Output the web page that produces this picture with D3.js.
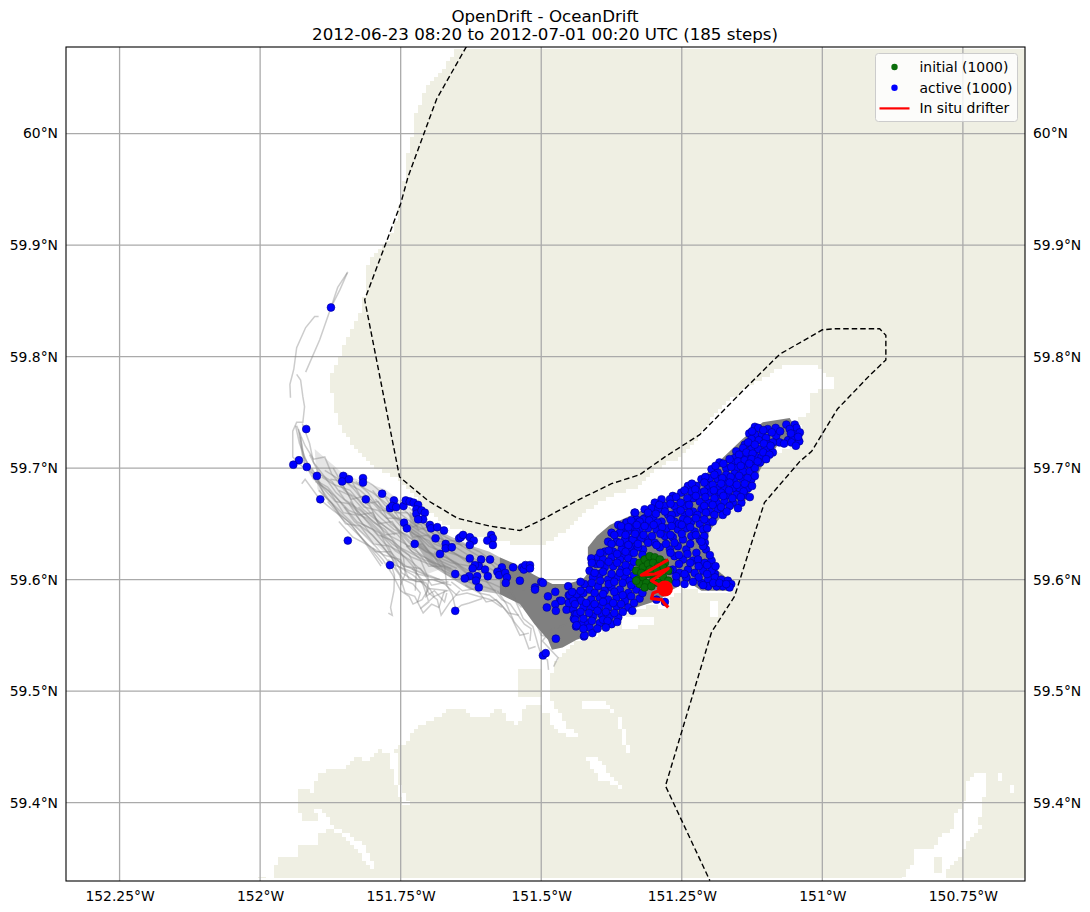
<!DOCTYPE html>
<html>
<head>
<meta charset="utf-8">
<script src="https://cdn.jsdelivr.net/npm/d3@7"></script>
<style>
  html, body { margin: 0; padding: 0; background: #fff; }
  text { font-family: "DejaVu Sans", sans-serif; fill: #000; }
</style>
</head>
<body>
<div id="vis"></div>
<script>
// Titles and axis ticks
const titleLines = ['OpenDrift - OceanDrift', '2012-06-23 08:20 to 2012-07-01 00:20 UTC (185 steps)'];
const lonTicks = [-152.25, -152, -151.75, -151.5, -151.25, -151, -150.75];
const lonTickLabels = ['152.25°W', '152°W', '151.75°W', '151.5°W', '151.25°W', '151°W', '150.75°W'];
const latTicks = [60, 59.9, 59.8, 59.7, 59.6, 59.5, 59.4];
const latTickLabels = ['60°N', '59.9°N', '59.8°N', '59.7°N', '59.6°N', '59.5°N', '59.4°N'];
const legendLabels = ['initial (1000)', 'active (1000)', 'In situ drifter'];

// Model domain outline (dashed)
const domainOutline = [[-151.633,60.078],[-151.686,60.031],[-151.737,59.961],[-151.750,59.937],[-151.814,59.851],[-151.752,59.692],[-151.702,59.671],[-151.649,59.655],[-151.592,59.648],[-151.538,59.644],[-151.494,59.655],[-151.432,59.672],[-151.375,59.686],[-151.325,59.694],[-151.280,59.710],[-151.218,59.730],[-151.138,59.771],[-151.076,59.802],[-151.000,59.824],[-150.978,59.825],[-150.898,59.825],[-150.887,59.819],[-150.887,59.797],[-150.916,59.783],[-150.973,59.753],[-151.019,59.715],[-151.040,59.706],[-151.103,59.669],[-151.156,59.585],[-151.197,59.553],[-151.279,59.415],[-151.200,59.330]];

// Water areas, everything else in the plot is land
const mainWater = [[-152.36,60.09],[-151.647,60.09],[-151.652,60.075],[-151.665,60.064],[-151.686,60.052],[-151.706,60.039],[-151.715,60.025],[-151.724,60.016],[-151.729,60.0],[-151.737,59.984],[-151.742,59.963],[-151.751,59.936],[-151.756,59.923],[-151.772,59.904],[-151.791,59.895],[-151.807,59.883],[-151.814,59.868],[-151.816,59.847],[-151.830,59.830],[-151.852,59.808],[-151.862,59.796],[-151.875,59.780],[-151.871,59.760],[-151.855,59.736],[-151.829,59.715],[-151.802,59.703],[-151.754,59.690],[-151.706,59.663],[-151.674,59.650],[-151.630,59.641],[-151.546,59.632],[-151.482,59.633],[-151.443,59.651],[-151.399,59.669],[-151.363,59.678],[-151.327,59.682],[-151.304,59.696],[-151.279,59.704],[-151.251,59.709],[-151.220,59.729],[-151.197,59.744],[-151.161,59.762],[-151.126,59.776],[-151.096,59.783],[-151.073,59.791],[-151.048,59.794],[-151.021,59.794],[-151.010,59.791],[-151.001,59.785],[-150.980,59.780],[-150.980,59.773],[-151.001,59.770],[-151.021,59.765],[-151.024,59.749],[-151.042,59.745],[-151.036,59.724],[-151.082,59.713],[-151.112,59.704],[-151.126,59.688],[-151.135,59.672],[-151.185,59.657],[-151.206,59.645],[-151.208,59.624],[-151.197,59.611],[-151.161,59.597],[-151.163,59.589],[-151.220,59.589],[-151.244,59.593],[-151.270,59.583],[-151.279,59.573],[-151.306,59.577],[-151.347,59.569],[-151.373,59.560],[-151.409,59.548],[-151.436,59.546],[-151.459,59.535],[-151.480,59.522],[-151.484,59.499],[-151.486,59.493],[-151.502,59.489],[-151.530,59.485],[-151.539,59.470],[-151.564,59.474],[-151.569,59.485],[-151.583,59.485],[-151.592,59.477],[-151.626,59.477],[-151.637,59.484],[-151.662,59.485],[-151.694,59.473],[-151.721,59.468],[-151.744,59.451],[-151.756,59.451],[-151.769,59.444],[-151.788,59.447],[-151.809,59.437],[-151.832,59.441],[-151.840,59.433],[-151.877,59.429],[-151.898,59.424],[-151.912,59.403],[-151.919,59.392],[-151.928,59.385],[-151.901,59.385],[-151.880,59.379],[-151.880,59.372],[-151.898,59.373],[-151.898,59.362],[-151.934,59.362],[-151.934,59.351],[-151.964,59.350],[-151.973,59.344],[-151.975,59.329],[-151.987,59.329],[-151.987,59.334],[-152.005,59.334],[-152.005,59.320],[-152.36,59.320]];
const eastInlet = [[-150.857,59.320],[-150.857,59.332],[-150.839,59.346],[-150.836,59.359],[-150.800,59.359],[-150.797,59.364],[-150.786,59.371],[-150.765,59.376],[-150.765,59.387],[-150.747,59.401],[-150.741,59.420],[-150.729,59.425],[-150.706,59.428],[-150.708,59.409],[-150.715,59.401],[-150.715,59.392],[-150.724,59.383],[-150.715,59.376],[-150.729,59.374],[-150.747,59.359],[-150.750,59.354],[-150.777,59.342],[-150.777,59.320]];
const cornerWater = [[-150.654,59.320],[-150.654,59.332],[-150.640,59.346],[-150.630,59.346],[-150.630,59.320]];
const edgeWaterPatches = [
  [[-150.654,59.549],[-150.630,59.549],[-150.630,59.535],[-150.654,59.535]],
  [[-150.686,59.428],[-150.678,59.428],[-150.678,59.420],[-150.686,59.420]],
  [[-150.668,59.416],[-150.658,59.416],[-150.658,59.408],[-150.668,59.408]]
];
const southChannels = [
  [[-151.480,59.490],[-151.470,59.482],[-151.454,59.468],[-151.437,59.462],[-151.440,59.456],[-151.468,59.464],[-151.490,59.474],[-151.500,59.470],[-151.500,59.493]],
  [[-151.425,59.491],[-151.385,59.491],[-151.377,59.486],[-151.366,59.478],[-151.350,59.445],[-151.342,59.445],[-151.358,59.478],[-151.386,59.484],[-151.425,59.484]],
  [[-151.420,59.441],[-151.400,59.442],[-151.380,59.425],[-151.362,59.416],[-151.345,59.410],[-151.372,59.417],[-151.395,59.420],[-151.410,59.432]],
  [[-151.357,59.565],[-151.302,59.565],[-151.302,59.561],[-151.330,59.561],[-151.330,59.557],[-151.357,59.557]],
  [[-151.200,59.580],[-151.186,59.580],[-151.186,59.566],[-151.200,59.566]],
  [[-151.905,59.394],[-151.890,59.394],[-151.868,59.378],[-151.835,59.370],[-151.810,59.358],[-151.797,59.342],[-151.807,59.342],[-151.830,59.360],[-151.860,59.372],[-151.892,59.380]],
  [[-151.772,59.446],[-151.757,59.446],[-151.754,59.418],[-151.735,59.398],[-151.744,59.398],[-151.762,59.420]]
];
const landPatches = [
  [[-151.542,59.520],[-151.502,59.520],[-151.502,59.493],[-151.542,59.493]],
  [[-151.498,59.482],[-151.486,59.482],[-151.486,59.470],[-151.498,59.470]],
  [[-151.930,59.412],[-151.908,59.412],[-151.908,59.391],[-151.930,59.391]],
  [[-150.798,59.351],[-150.785,59.351],[-150.785,59.338],[-150.798,59.338]]
];

// Dense overlap of the 1000 drift tracks, too dense to separate single lines
const denseTracks = [[-151.058,59.745],[-151.037,59.727],[-151.078,59.722],[-151.092,59.710],[-151.108,59.701],[-151.124,59.685],[-151.133,59.672],[-151.179,59.657],[-151.202,59.643],[-151.204,59.624],[-151.193,59.611],[-151.159,59.597],[-151.161,59.590],[-151.215,59.590],[-151.239,59.598],[-151.266,59.591],[-151.289,59.582],[-151.343,59.573],[-151.369,59.564],[-151.401,59.552],[-151.437,59.546],[-151.462,59.539],[-151.481,59.537],[-151.488,59.546],[-151.512,59.560],[-151.538,59.578],[-151.574,59.587],[-151.574,59.620],[-151.551,59.615],[-151.508,59.603],[-151.480,59.596],[-151.455,59.596],[-151.426,59.600],[-151.417,59.606],[-151.417,59.629],[-151.401,59.639],[-151.378,59.649],[-151.330,59.660],[-151.277,59.672],[-151.223,59.687],[-151.142,59.726],[-151.106,59.741]];
const mediumTracks = [[-151.574,59.620],[-151.592,59.625],[-151.622,59.630],[-151.663,59.639],[-151.698,59.649],[-151.734,59.661],[-151.734,59.640],[-151.698,59.613],[-151.663,59.602],[-151.627,59.591],[-151.574,59.587]];
const lightTracks = [[-151.903,59.717],[-151.850,59.694],[-151.778,59.681],[-151.725,59.661],[-151.716,59.640],[-151.681,59.609],[-151.707,59.604],[-151.752,59.613],[-151.805,59.636],[-151.858,59.658],[-151.898,59.681]];

// Single tracks on the western fringe of the plume
const fringeTracks = [
  [[-151.844,59.876],[-151.862,59.862],[-151.874,59.844],[-151.894,59.815],[-151.919,59.786]],
  [[-151.845,59.875],[-151.858,59.860],[-151.874,59.844]],
  [[-151.896,59.836],[-151.903,59.836],[-151.919,59.826],[-151.935,59.808],[-151.940,59.789],[-151.947,59.775],[-151.946,59.763]],
  [[-151.935,59.784],[-151.928,59.779],[-151.924,59.764],[-151.921,59.755],[-151.924,59.741],[-151.935,59.741],[-151.942,59.733],[-151.942,59.710],[-151.924,59.701]],
  [[-151.937,59.738],[-151.930,59.722],[-151.915,59.703],[-151.900,59.688],[-151.880,59.673],[-151.860,59.660],[-151.840,59.650],[-151.810,59.632],[-151.782,59.614]],
  [[-151.926,59.686],[-151.920,59.690],[-151.894,59.672],[-151.870,59.662],[-151.840,59.651],[-151.812,59.632],[-151.785,59.612]],
  [[-151.935,59.738],[-151.920,59.720],[-151.905,59.708],[-151.885,59.710],[-151.873,59.695],[-151.850,59.680],[-151.825,59.672],[-151.795,59.655],[-151.760,59.640]],
  [[-151.925,59.740],[-151.912,59.722],[-151.905,59.705],[-151.885,59.692],[-151.865,59.678],[-151.835,59.665],[-151.800,59.648],[-151.765,59.632],[-151.730,59.620],[-151.690,59.612],[-151.640,59.600],[-151.580,59.590]],
  [[-151.930,59.732],[-151.918,59.700],[-151.900,59.692],[-151.885,59.675],[-151.855,59.660],[-151.825,59.645],[-151.795,59.630],[-151.770,59.615],[-151.720,59.605],[-151.680,59.600]],
  [[-151.932,59.735],[-151.925,59.712],[-151.912,59.702],[-151.893,59.685],[-151.870,59.676],[-151.842,59.662],[-151.810,59.655],[-151.780,59.640],[-151.748,59.628],[-151.710,59.618],[-151.660,59.610]],
  [[-151.928,59.728],[-151.922,59.705],[-151.905,59.690],[-151.880,59.683],[-151.858,59.670],[-151.832,59.652],[-151.800,59.640],[-151.770,59.622],[-151.740,59.612],[-151.700,59.603]],
  [[-151.890,59.692],[-151.868,59.685],[-151.840,59.680],[-151.815,59.665],[-151.790,59.662],[-151.760,59.648],[-151.735,59.635],[-151.705,59.625],[-151.670,59.620],[-151.620,59.605]],
  [[-151.875,59.690],[-151.850,59.688],[-151.822,59.680],[-151.800,59.670],[-151.770,59.658],[-151.745,59.650],[-151.715,59.640],[-151.690,59.628],[-151.650,59.622],[-151.600,59.610]],
  [[-151.860,59.680],[-151.838,59.675],[-151.815,59.662],[-151.785,59.650],[-151.755,59.640],[-151.730,59.625],[-151.695,59.617],[-151.655,59.605],[-151.610,59.598]],
  [[-151.852,59.692],[-151.825,59.685],[-151.800,59.678],[-151.775,59.668],[-151.748,59.658],[-151.722,59.648],[-151.695,59.642],[-151.665,59.632]],
  [[-151.817,59.690],[-151.800,59.685],[-151.778,59.675],[-151.752,59.666],[-151.730,59.656],[-151.700,59.648],[-151.670,59.638],[-151.640,59.630]],
  [[-151.880,59.670],[-151.855,59.655],[-151.825,59.640],[-151.795,59.625],[-151.768,59.625],[-151.745,59.612],[-151.715,59.610],[-151.695,59.595],[-151.665,59.598]],
  [[-151.860,59.652],[-151.835,59.638],[-151.805,59.630],[-151.780,59.622],[-151.750,59.618],[-151.735,59.600],[-151.705,59.597],[-151.690,59.585],[-151.668,59.590]],
  [[-151.850,59.665],[-151.828,59.652],[-151.800,59.645],[-151.778,59.632],[-151.752,59.625],[-151.728,59.612],[-151.710,59.595],[-151.700,59.580],[-151.715,59.574],[-151.690,59.585]],
  [[-151.840,59.670],[-151.815,59.655],[-151.790,59.640],[-151.765,59.635],[-151.745,59.620],[-151.742,59.605],[-151.750,59.595]],
  [[-151.825,59.665],[-151.800,59.652],[-151.778,59.645],[-151.755,59.630],[-151.735,59.622],[-151.722,59.610],[-151.724,59.590]],
  [[-151.810,59.668],[-151.785,59.655],[-151.762,59.645],[-151.738,59.640],[-151.712,59.628],[-151.690,59.620],[-151.672,59.606],[-151.650,59.600]],
  [[-151.795,59.672],[-151.772,59.660],[-151.748,59.652],[-151.725,59.640],[-151.700,59.635],[-151.678,59.622],[-151.650,59.615],[-151.620,59.600]],
  [[-151.775,59.662],[-151.750,59.648],[-151.722,59.640],[-151.700,59.625],[-151.680,59.615],[-151.655,59.608],[-151.630,59.598],[-151.605,59.592]],
  [[-151.768,59.615],[-151.761,59.604],[-151.762,59.590],[-151.768,59.575],[-151.765,59.568],[-151.772,59.570]],
  [[-151.785,59.640],[-151.770,59.625],[-151.758,59.610],[-151.745,59.600],[-151.728,59.596],[-151.715,59.588],[-151.720,59.580]],
  [[-151.690,59.625],[-151.672,59.612],[-151.668,59.595],[-151.658,59.586],[-151.652,59.573],[-151.642,59.577],[-151.628,59.579],[-151.605,59.583]],
  [[-151.740,59.630],[-151.715,59.618],[-151.700,59.600],[-151.705,59.585],[-151.690,59.590],[-151.672,59.580],[-151.668,59.588]],
  [[-151.720,59.640],[-151.700,59.630],[-151.678,59.625],[-151.655,59.615],[-151.625,59.602],[-151.590,59.597],[-151.560,59.590],[-151.535,59.575]],
  [[-151.735,59.665],[-151.712,59.652],[-151.690,59.640],[-151.662,59.632],[-151.630,59.622],[-151.598,59.612],[-151.565,59.602],[-151.530,59.590]],
  [[-151.560,59.598],[-151.545,59.580],[-151.532,59.565],[-151.515,59.558],[-151.505,59.540],[-151.498,59.530],[-151.489,59.528],[-151.487,59.519]],
  [[-151.600,59.600],[-151.570,59.582],[-151.555,59.578],[-151.530,59.560],[-151.518,59.556],[-151.520,59.545]],
  [[-151.510,59.562],[-151.500,59.550],[-151.480,59.548],[-151.472,59.540]],
  [[-151.455,59.560],[-151.482,59.555],[-151.498,59.545],[-151.470,59.530],[-151.478,59.522]],
  [[-151.912,59.712],[-151.895,59.695],[-151.872,59.688],[-151.850,59.672],[-151.822,59.662],[-151.798,59.652],[-151.772,59.640],[-151.742,59.632],[-151.712,59.622],[-151.680,59.610]],
  [[-151.908,59.700],[-151.888,59.682],[-151.866,59.670],[-151.842,59.668],[-151.818,59.650],[-151.788,59.642],[-151.760,59.626],[-151.735,59.618],[-151.705,59.605],[-151.672,59.598]],
  [[-151.902,59.688],[-151.878,59.680],[-151.852,59.660],[-151.830,59.658],[-151.805,59.642],[-151.782,59.630],[-151.755,59.612],[-151.728,59.604],[-151.700,59.592],[-151.665,59.590]],
  [[-151.896,59.680],[-151.872,59.668],[-151.848,59.650],[-151.822,59.648],[-151.798,59.632],[-151.772,59.630],[-151.748,59.606],[-151.722,59.598],[-151.695,59.600],[-151.660,59.595]],
  [[-151.885,59.698],[-151.860,59.690],[-151.838,59.672],[-151.812,59.675],[-151.790,59.650],[-151.765,59.652],[-151.738,59.630],[-151.712,59.632],[-151.685,59.618],[-151.650,59.610]],
  [[-151.870,59.700],[-151.845,59.678],[-151.825,59.658],[-151.800,59.660],[-151.778,59.640],[-151.752,59.642],[-151.725,59.628],[-151.700,59.612],[-151.675,59.612],[-151.640,59.603]],
  [[-151.858,59.692],[-151.835,59.682],[-151.812,59.668],[-151.790,59.670],[-151.768,59.650],[-151.742,59.640],[-151.718,59.632],[-151.692,59.622],[-151.660,59.615],[-151.625,59.612]],
  [[-151.845,59.695],[-151.822,59.675],[-151.798,59.668],[-151.775,59.655],[-151.750,59.655],[-151.728,59.638],[-151.700,59.640],[-151.672,59.628],[-151.640,59.620],[-151.610,59.612]],
  [[-151.830,59.688],[-151.808,59.678],[-151.785,59.662],[-151.762,59.662],[-151.740,59.645],[-151.715,59.650],[-151.690,59.632],[-151.660,59.626],[-151.630,59.615],[-151.595,59.602]],
  [[-151.800,59.680],[-151.780,59.668],[-151.758,59.655],[-151.735,59.650],[-151.712,59.642],[-151.685,59.634],[-151.655,59.635],[-151.625,59.625],[-151.590,59.615],[-151.560,59.600]],
  [[-151.780,59.676],[-151.760,59.660],[-151.738,59.660],[-151.718,59.645],[-151.692,59.648],[-151.668,59.632],[-151.640,59.632],[-151.610,59.625],[-151.575,59.612]],
  [[-151.800,59.628],[-151.782,59.618],[-151.765,59.605],[-151.750,59.590],[-151.735,59.585],[-151.728,59.578],[-151.712,59.582],[-151.700,59.592]],
  [[-151.772,59.618],[-151.752,59.604],[-151.742,59.588],[-151.725,59.585],[-151.710,59.570],[-151.695,59.578],[-151.682,59.575],[-151.672,59.590]],
  [[-151.730,59.610],[-151.712,59.600],[-151.700,59.588],[-151.685,59.582],[-151.678,59.568],[-151.662,59.580],[-151.645,59.590]],
  [[-151.690,59.600],[-151.672,59.596],[-151.650,59.586],[-151.632,59.588],[-151.612,59.585],[-151.590,59.582],[-151.570,59.575]],
  [[-151.660,59.598],[-151.640,59.590],[-151.615,59.592],[-151.598,59.580],[-151.580,59.582],[-151.558,59.570],[-151.540,59.568]],
  [[-151.635,59.595],[-151.610,59.588],[-151.592,59.586],[-151.572,59.578],[-151.552,59.565],[-151.538,59.550],[-151.522,59.552]],
  [[-151.578,59.590],[-151.562,59.578],[-151.548,59.562],[-151.532,59.552],[-151.522,59.538],[-151.510,59.540]]
];

// Particle positions, lon/lat
const initialPoints = [[-151.325,59.615],[-151.316,59.618],[-151.307,59.621],[-151.298,59.620],[-151.289,59.618],[-151.280,59.615],[-151.331,59.608],[-151.319,59.611],[-151.310,59.614],[-151.301,59.615],[-151.292,59.612],[-151.283,59.611],[-151.274,59.608],[-151.328,59.600],[-151.319,59.602],[-151.310,59.605],[-151.301,59.606],[-151.292,59.605],[-151.283,59.602],[-151.274,59.599],[-151.325,59.596],[-151.313,59.597],[-151.301,59.599],[-151.292,59.597],[-151.316,59.593],[-151.304,59.594],[-151.331,59.599],[-151.322,59.606],[-151.295,59.609],[-151.307,59.609]];
const activePoints = [
  [-151.874,59.844],[-151.918,59.735],[-151.931,59.707],[-151.941,59.703],[-151.917,59.701],[-151.899,59.693],[-151.893,59.672],[-151.852,59.693],[-151.854,59.688],[-151.842,59.690],[-151.817,59.691],[-151.817,59.687],[-151.783,59.677],[-151.812,59.672],[-151.844,59.635],[-151.769,59.613],[-151.762,59.671],[-151.769,59.664],[-151.765,59.666],[-151.758,59.665],[-151.745,59.666],[-151.741,59.671],[-151.734,59.670],[-151.727,59.669],[-151.719,59.667],[-151.722,59.663],[-151.722,59.659],[-151.713,59.662],[-151.707,59.660],[-151.710,59.654],[-151.719,59.654],[-151.744,59.651],[-151.739,59.646],[-151.698,59.649],[-151.696,59.646],[-151.685,59.647],[-151.673,59.644],[-151.688,59.637],[-151.725,59.632],[-151.670,59.632],[-151.670,59.628],[-151.659,59.629],[-151.680,59.623],[-151.646,59.637],[-151.643,59.638],[-151.639,59.640],[-151.627,59.638],[-151.620,59.635],[-151.627,59.631],[-151.589,59.640],[-151.586,59.637],[-151.596,59.635],[-151.586,59.631],[-151.627,59.619],[-151.607,59.618],[-151.591,59.618],[-151.611,59.612],[-151.618,59.613],[-151.622,59.610],[-151.600,59.609],[-151.570,59.611],[-151.550,59.611],[-151.534,59.611],[-151.531,59.609],[-151.528,59.613],[-151.520,59.613],[-151.520,59.610],[-151.578,59.607],[-151.575,59.604],[-151.564,59.606],[-151.561,59.602],[-151.563,59.597],[-151.595,59.603],[-151.614,59.603],[-151.616,59.599],[-151.628,59.603],[-151.636,59.601],[-151.653,59.605],[-151.611,59.593],[-151.538,59.599],[-151.511,59.593],[-151.511,59.591],[-151.500,59.598],[-151.497,59.597],[-151.653,59.572],[-151.488,59.585],[-151.490,59.575],[-151.497,59.532],[-151.492,59.534],[-151.474,59.547],
  [-151.452,59.594],[-151.475,59.589],[-151.467,59.581],[-151.475,59.578],[-151.474,59.572],[-151.455,59.573],[-151.451,59.579],[-151.443,59.573],[-151.440,59.569],[-151.442,59.565],[-151.438,59.558],[-151.424,59.549],[-151.451,59.586],[-151.447,59.585],[-151.440,59.584],[-151.433,59.585],
  [-151.120,59.737],[-151.114,59.736],[-151.083,59.736],[-151.064,59.739],[-151.049,59.739],[-151.046,59.736],[-151.058,59.735],[-151.097,59.735],[-151.130,59.731],[-151.120,59.730],[-151.107,59.730],[-151.126,59.726],[-151.113,59.725],[-151.100,59.727],[-151.082,59.729],[-151.076,59.723],[-151.061,59.725],[-151.049,59.730],[-151.040,59.732],[-151.052,59.727],[-151.041,59.724],[-151.088,59.723],[-151.097,59.721],[-151.138,59.721],[-151.126,59.717],[-151.114,59.717],[-151.100,59.717],[-151.088,59.714],[-151.153,59.715],[-151.141,59.718],[-151.156,59.709],[-151.144,59.709],[-151.132,59.711],[-151.120,59.711],[-151.108,59.710],[-151.159,59.705],[-151.111,59.705],[-151.183,59.705],[-151.171,59.700],[-151.153,59.700],[-151.138,59.703],[-151.123,59.703],[-151.197,59.699],[-151.186,59.696],[-151.171,59.694],[-151.156,59.695],[-151.141,59.697],[-151.129,59.697],[-151.120,59.700],[-151.215,59.690],[-151.200,59.691],[-151.186,59.690],[-151.171,59.688],[-151.156,59.690],[-151.141,59.690],[-151.126,59.690],[-151.239,59.684],[-151.224,59.684],[-151.203,59.684],[-151.188,59.682],[-151.174,59.681],[-151.159,59.682],[-151.147,59.682],[-151.132,59.682],[-151.266,59.675],[-151.251,59.678],[-151.233,59.679],[-151.218,59.678],[-151.200,59.678],[-151.183,59.676],[-151.168,59.676],[-151.153,59.676],[-151.138,59.676],[-151.129,59.674],[-151.286,59.672],[-151.298,59.669],[-151.271,59.672],[-151.280,59.666],[-151.263,59.666],[-151.245,59.666],[-151.230,59.673],[-151.218,59.670],[-151.203,59.669],[-151.188,59.669],[-151.174,59.670],[-151.159,59.669],[-151.144,59.669],[-151.304,59.664],[-151.292,59.663],[-151.316,59.663],[-151.334,59.660],[-151.274,59.658],[-151.260,59.660],[-151.245,59.658],[-151.230,59.661],[-151.215,59.663],[-151.200,59.661],[-151.186,59.663],[-151.177,59.658],[-151.349,59.651],[-151.331,59.654],[-151.316,59.655],[-151.301,59.655],[-151.286,59.652],[-151.263,59.652],[-151.248,59.654],[-151.233,59.652],[-151.218,59.650],[-151.203,59.651],
  [-151.354,59.643],[-151.340,59.646],[-151.325,59.645],[-151.310,59.646],[-151.295,59.645],[-151.277,59.646],[-151.257,59.645],[-151.242,59.646],[-151.227,59.643],[-151.212,59.645],[-151.346,59.636],[-151.328,59.638],[-151.313,59.636],[-151.298,59.633],[-151.280,59.639],[-151.266,59.638],[-151.248,59.636],[-151.233,59.639],[-151.218,59.636],[-151.209,59.633],[-151.354,59.630],[-151.337,59.629],[-151.319,59.627],[-151.289,59.629],[-151.271,59.627],[-151.257,59.630],[-151.242,59.627],[-151.224,59.624],[-151.207,59.627],[-151.212,59.630],[-151.352,59.621],[-151.343,59.623],[-151.263,59.621],[-151.248,59.618],[-151.230,59.617],[-151.221,59.618],[-151.209,59.615],[-151.197,59.617],[-151.266,59.609],[-151.254,59.606],[-151.239,59.609],[-151.227,59.606],[-151.212,59.608],[-151.197,59.611],[-151.191,59.605],[-151.242,59.602],[-151.260,59.598],[-151.271,59.608],
  [-151.215,59.597],[-151.203,59.600],[-151.191,59.602],[-151.180,59.600],[-151.168,59.599],[-151.162,59.596],[-151.165,59.593],[-151.177,59.594],[-151.188,59.594],[-151.203,59.594],[-151.212,59.595],[-151.197,59.608],[-151.194,59.597],[-151.183,59.597],[-151.171,59.596],
  [-151.333,59.660],[-151.363,59.649],[-151.348,59.651],[-151.334,59.651],[-151.319,59.654],[-151.375,59.642],[-151.360,59.642],[-151.346,59.643],[-151.331,59.643],[-151.381,59.634],[-151.366,59.634],[-151.351,59.636],[-151.337,59.636],[-151.322,59.637],[-151.387,59.625],[-151.372,59.625],[-151.357,59.627],[-151.343,59.629],[-151.328,59.629],[-151.411,59.619],[-151.399,59.620],[-151.390,59.618],[-151.375,59.620],[-151.360,59.618],[-151.345,59.619],[-151.414,59.608],[-151.402,59.614],[-151.387,59.611],[-151.372,59.612],[-151.357,59.609],[-151.342,59.611],[-151.423,59.596],[-151.408,59.602],[-151.396,59.605],[-151.381,59.600],[-151.366,59.602],[-151.351,59.602],[-151.343,59.599],[-151.437,59.587],[-151.425,59.588],[-151.414,59.591],[-151.399,59.594],[-151.387,59.590],[-151.375,59.593],[-151.360,59.591],[-151.345,59.588],[-151.331,59.591],[-151.449,59.586],[-151.443,59.581],[-151.429,59.581],[-151.411,59.582],[-151.396,59.584],[-151.381,59.582],[-151.366,59.584],[-151.351,59.581],[-151.325,59.583],[-151.464,59.581],[-151.425,59.575],[-151.411,59.575],[-151.396,59.576],[-151.381,59.575],[-151.366,59.576],[-151.345,59.575],[-151.437,59.569],[-151.408,59.567],[-151.393,59.569],[-151.378,59.567],[-151.363,59.566],[-151.440,59.564],[-151.420,59.561],[-151.396,59.561],[-151.375,59.560],[-151.429,59.560],[-151.414,59.557],[-151.437,59.559],[-151.423,59.550],[-151.409,59.552],
  [-151.295,59.582],[-151.280,59.580],[-151.260,59.597],[-151.242,59.602],
  [-151.125,59.733],[-151.105,59.734],[-151.090,59.732],[-151.075,59.733],[-151.056,59.731],[-151.043,59.728],[-151.132,59.723],[-151.120,59.721],[-151.104,59.722],[-151.092,59.720],[-151.068,59.722],[-151.055,59.723],[-151.047,59.720],
  [-151.148,59.712],[-151.135,59.714],[-151.124,59.713],[-151.105,59.714],[-151.094,59.712],[-151.165,59.708],[-151.150,59.706],[-151.138,59.707],[-151.126,59.708],[-151.115,59.706],[-151.100,59.708],
  [-151.190,59.702],[-151.176,59.704],[-151.162,59.701],[-151.145,59.702],[-151.130,59.704],[-151.208,59.692],[-151.192,59.694],[-151.178,59.691],[-151.163,59.692],[-151.148,59.693],[-151.133,59.691],[-151.120,59.693],
  [-151.232,59.686],[-151.210,59.687],[-151.195,59.685],[-151.180,59.686],[-151.165,59.687],[-151.152,59.685],[-151.138,59.686],[-151.125,59.684],[-151.245,59.680],[-151.226,59.681],[-151.210,59.679],[-151.193,59.680],[-151.180,59.678],[-151.166,59.680],[-151.140,59.679],
  [-151.260,59.674],[-151.240,59.673],[-151.225,59.675],[-151.208,59.674],[-151.192,59.673],[-151.176,59.675],[-151.160,59.673],[-151.145,59.674],[-151.290,59.667],[-151.270,59.668],[-151.252,59.669],[-151.237,59.667],[-151.210,59.666],[-151.195,59.667],[-151.180,59.665],[-151.165,59.666],[-151.150,59.664],
  [-151.310,59.660],[-151.296,59.659],[-151.280,59.661],[-151.268,59.658],[-151.252,59.662],[-151.237,59.660],[-151.222,59.658],[-151.207,59.660],[-151.192,59.658],[-151.170,59.661],
  [-151.340,59.653],[-151.325,59.652],[-151.308,59.653],[-151.293,59.651],[-151.270,59.654],[-151.255,59.650],[-151.240,59.653],[-151.225,59.655],[-151.210,59.654],[-151.195,59.652],
  [-151.358,59.648],[-151.345,59.647],[-151.330,59.649],[-151.316,59.648],[-151.300,59.649],[-151.285,59.647],[-151.268,59.648],[-151.250,59.649],[-151.235,59.647],[-151.205,59.646],
  [-151.370,59.640],[-151.350,59.640],[-151.333,59.641],[-151.318,59.640],[-151.303,59.639],[-151.288,59.641],[-151.270,59.640],[-151.250,59.641],[-151.225,59.640],[-151.210,59.639],
  [-151.375,59.632],[-151.360,59.633],[-151.345,59.631],[-151.328,59.632],[-151.310,59.633],[-151.295,59.631],[-151.278,59.632],[-151.263,59.633],[-151.235,59.632],[-151.215,59.634],
  [-151.395,59.624],[-151.380,59.626],[-151.365,59.623],[-151.350,59.625],[-151.335,59.624],[-151.320,59.622],[-151.270,59.624],[-151.255,59.622],[-151.240,59.623],[-151.200,59.622],
  [-151.410,59.615],[-151.395,59.614],[-151.380,59.616],[-151.365,59.615],[-151.350,59.613],[-151.335,59.616],[-151.255,59.614],[-151.235,59.615],[-151.220,59.612],[-151.205,59.613],[-151.190,59.612],
  [-151.405,59.606],[-151.390,59.607],[-151.375,59.605],[-151.360,59.606],[-151.348,59.607],[-151.335,59.604],[-151.260,59.603],[-151.245,59.605],[-151.220,59.602],[-151.205,59.605],
  [-151.430,59.598],[-151.410,59.597],[-151.395,59.599],[-151.380,59.596],[-151.370,59.598],[-151.355,59.597],[-151.340,59.595],[-151.245,59.596],[-151.230,59.598],
  [-151.445,59.589],[-151.430,59.590],[-151.405,59.588],[-151.390,59.587],[-151.370,59.589],[-151.355,59.586],[-151.340,59.585],[-151.320,59.588],
  [-151.440,59.578],[-151.420,59.579],[-151.405,59.578],[-151.390,59.580],[-151.372,59.579],[-151.358,59.578],[-151.335,59.579],
  [-151.430,59.571],[-151.415,59.570],[-151.400,59.572],[-151.385,59.571],[-151.370,59.570],[-151.355,59.571],[-151.338,59.572],
  [-151.425,59.565],[-151.410,59.563],[-151.390,59.564],[-151.365,59.562],[-151.382,59.563],[-151.425,59.556],[-151.400,59.556],[-151.385,59.557]
];

// In situ drifter track and its end marker
const drifterTrack = [[-151.274,59.618],[-151.298,59.611],[-151.322,59.604],[-151.298,59.605],[-151.274,59.610],[-151.292,59.603],[-151.304,59.599],[-151.280,59.592],[-151.301,59.588],[-151.304,59.583],[-151.286,59.582],[-151.280,59.578],[-151.274,59.575]];
const drifterMarker = [-151.280, 59.592];

const width = 1090;
const height = 912;
const margin = {top: 47, right: 65, bottom: 31, left: 66};
const plotW = width - margin.left - margin.right;
const plotH = height - margin.top - margin.bottom;

const x = d3.scaleLinear().domain([-152.3453, -150.6395]).range([margin.left, margin.left + plotW]);
const y = d3.scaleLinear().domain([59.3297, 60.0776]).range([margin.top + plotH, margin.top]);

const svg = d3.select('#vis').append('svg')
    .attr('width', width)
    .attr('height', height)
    .attr('viewBox', [0, 0, width, height])
    .style('display', 'block');

svg.append('defs').append('clipPath').attr('id', 'plot-clip')
    .append('rect')
    .attr('x', margin.left).attr('y', margin.top)
    .attr('width', plotW).attr('height', plotH);

const plot = svg.append('g').attr('clip-path', 'url(#plot-clip)');
const project = p => [x(p[0]), y(p[1])];
const line = d3.line().x(d => x(d[0])).y(d => y(d[1]));

// Land background, water gets blocked out on the coarse landmask grid
plot.append('rect')
    .attr('x', margin.left).attr('y', margin.top)
    .attr('width', plotW).attr('height', plotH)
    .attr('fill', '#efefe3');

const waterPx = [mainWater, eastInlet, cornerWater, ...edgeWaterPatches, ...southChannels].map(a => a.map(project));
const landPx = landPatches.map(a => a.map(project));
const cell = 4;
let maskPath = '';
for (let cy = margin.top + 2; cy < margin.top + plotH; cy += cell) {
    let runStart = null;
    for (let cx = margin.left; cx <= margin.left + plotW + cell; cx += cell) {
        const pt = [cx + cell / 2, cy + cell / 2];
        const isWater = waterPx.some(a => d3.polygonContains(a, pt)) && !landPx.some(a => d3.polygonContains(a, pt));
        if (isWater && runStart === null) runStart = cx;
        if (!isWater && runStart !== null) {
            maskPath += `M${runStart},${cy}H${cx}V${cy + cell}H${runStart}Z`;
            runStart = null;
        }
    }
}
plot.append('path').attr('d', maskPath).attr('fill', '#fff').attr('shape-rendering', 'crispEdges');
// white strips where the landmask stops short of the frame
plot.append('rect').attr('x', margin.left).attr('y', margin.top).attr('width', plotW).attr('height', 2).attr('fill', '#fff');
plot.append('rect').attr('x', margin.left).attr('y', margin.top + plotH - 3).attr('width', plotW).attr('height', 3).attr('fill', '#fff');

// Grid
plot.append('g').selectAll('line').data(lonTicks).join('line')
    .attr('x1', d => x(d)).attr('x2', d => x(d))
    .attr('y1', margin.top).attr('y2', margin.top + plotH)
    .attr('stroke', '#aaa').attr('stroke-width', 1.3);
plot.append('g').selectAll('line').data(latTicks).join('line')
    .attr('x1', margin.left).attr('x2', margin.left + plotW)
    .attr('y1', d => y(d)).attr('y2', d => y(d))
    .attr('stroke', '#aaa').attr('stroke-width', 1.3);

plot.append('path').datum(domainOutline)
    .attr('d', line)
    .attr('fill', 'none').attr('stroke', '#000').attr('stroke-width', 1.4).attr('stroke-dasharray', '5.5 3');

// Tracks
plot.append('path').datum(lightTracks).attr('d', line).attr('fill', '#888').attr('opacity', 0.22);
plot.append('path').datum(mediumTracks).attr('d', line).attr('fill', '#888').attr('opacity', 0.55);
plot.append('path').datum(denseTracks).attr('d', line).attr('fill', '#808080');
plot.append('g').selectAll('path').data(fringeTracks).join('path')
    .attr('d', line)
    .attr('fill', 'none').attr('stroke', '#808080').attr('stroke-width', 1.5).attr('stroke-opacity', 0.4);

// Particles
plot.append('g').selectAll('circle').data(activePoints).join('circle')
    .attr('cx', d => x(d[0])).attr('cy', d => y(d[1])).attr('r', 3.9)
    .attr('fill', '#0000ff').attr('stroke', '#00008b').attr('stroke-width', 0.6);
plot.append('g').selectAll('circle').data(initialPoints).join('circle')
    .attr('cx', d => x(d[0])).attr('cy', d => y(d[1])).attr('r', 3.9)
    .attr('fill', '#0a6e0a').attr('stroke', '#004a00').attr('stroke-width', 0.6);

// In situ drifter
plot.append('path').datum(drifterTrack).attr('d', line)
    .attr('fill', 'none').attr('stroke', '#ff0000').attr('stroke-width', 3.2).attr('stroke-linejoin', 'round');
plot.append('circle').attr('cx', x(drifterMarker[0])).attr('cy', y(drifterMarker[1])).attr('r', 8).attr('fill', '#ff0000');

// Frame
svg.append('rect')
    .attr('x', margin.left).attr('y', margin.top)
    .attr('width', plotW).attr('height', plotH)
    .attr('fill', 'none').attr('stroke', '#000').attr('stroke-width', 1.1);

// Axis labels, no tick marks in the reference
const lonLabel = d3.scaleOrdinal(lonTicks, lonTickLabels);
const latLabel = d3.scaleOrdinal(latTicks, latTickLabels);
const axisBottom = d3.axisBottom(x).tickValues(lonTicks).tickFormat(lonLabel).tickSize(0).tickPadding(10);
const axisLeft = d3.axisLeft(y).tickValues(latTicks).tickFormat(latLabel).tickSize(0).tickPadding(8);
const axisRight = d3.axisRight(y).tickValues(latTicks).tickFormat(latLabel).tickSize(0).tickPadding(8);
[[axisBottom, `translate(0,${margin.top + plotH})`], [axisLeft, `translate(${margin.left},0)`], [axisRight, `translate(${margin.left + plotW},0)`]]
    .forEach(([axis, tr]) => {
        const g = svg.append('g').attr('transform', tr).call(axis);
        g.select('.domain').remove();
        g.selectAll('text').attr('font-size', 13.9).attr('font-family', '"DejaVu Sans", sans-serif').attr('fill', '#000');
    });

// Title
svg.append('g').selectAll('text').data(titleLines).join('text')
    .attr('x', 545).attr('y', (d, i) => 22 + i * 17.5)
    .attr('text-anchor', 'middle').attr('font-size', 16.67)
    .text(d => d);

// Legend
const legend = svg.append('g').attr('transform', 'translate(875.5,53.5)');
legend.append('rect').attr('width', 142).attr('height', 68).attr('rx', 3)
    .attr('fill', '#fff').attr('fill-opacity', 0.8).attr('stroke', '#ccc').attr('stroke-width', 1);
legendLabels.forEach((label, i) => {
    const ly = 13.5 + i * 20.7;
    legend.append('text').attr('x', 44).attr('y', ly + 5).attr('font-size', 13.9).text(label);
    if (i < 2) {
        legend.append('circle').attr('cx', 19).attr('cy', ly).attr('r', 3.2)
            .attr('fill', i === 0 ? '#0a6e0a' : '#0000ff');
    } else {
        legend.append('line').attr('x1', 4).attr('x2', 34).attr('y1', ly).attr('y2', ly)
            .attr('stroke', '#ff0000').attr('stroke-width', 2.2);
    }
});
</script>
</body>
</html>
